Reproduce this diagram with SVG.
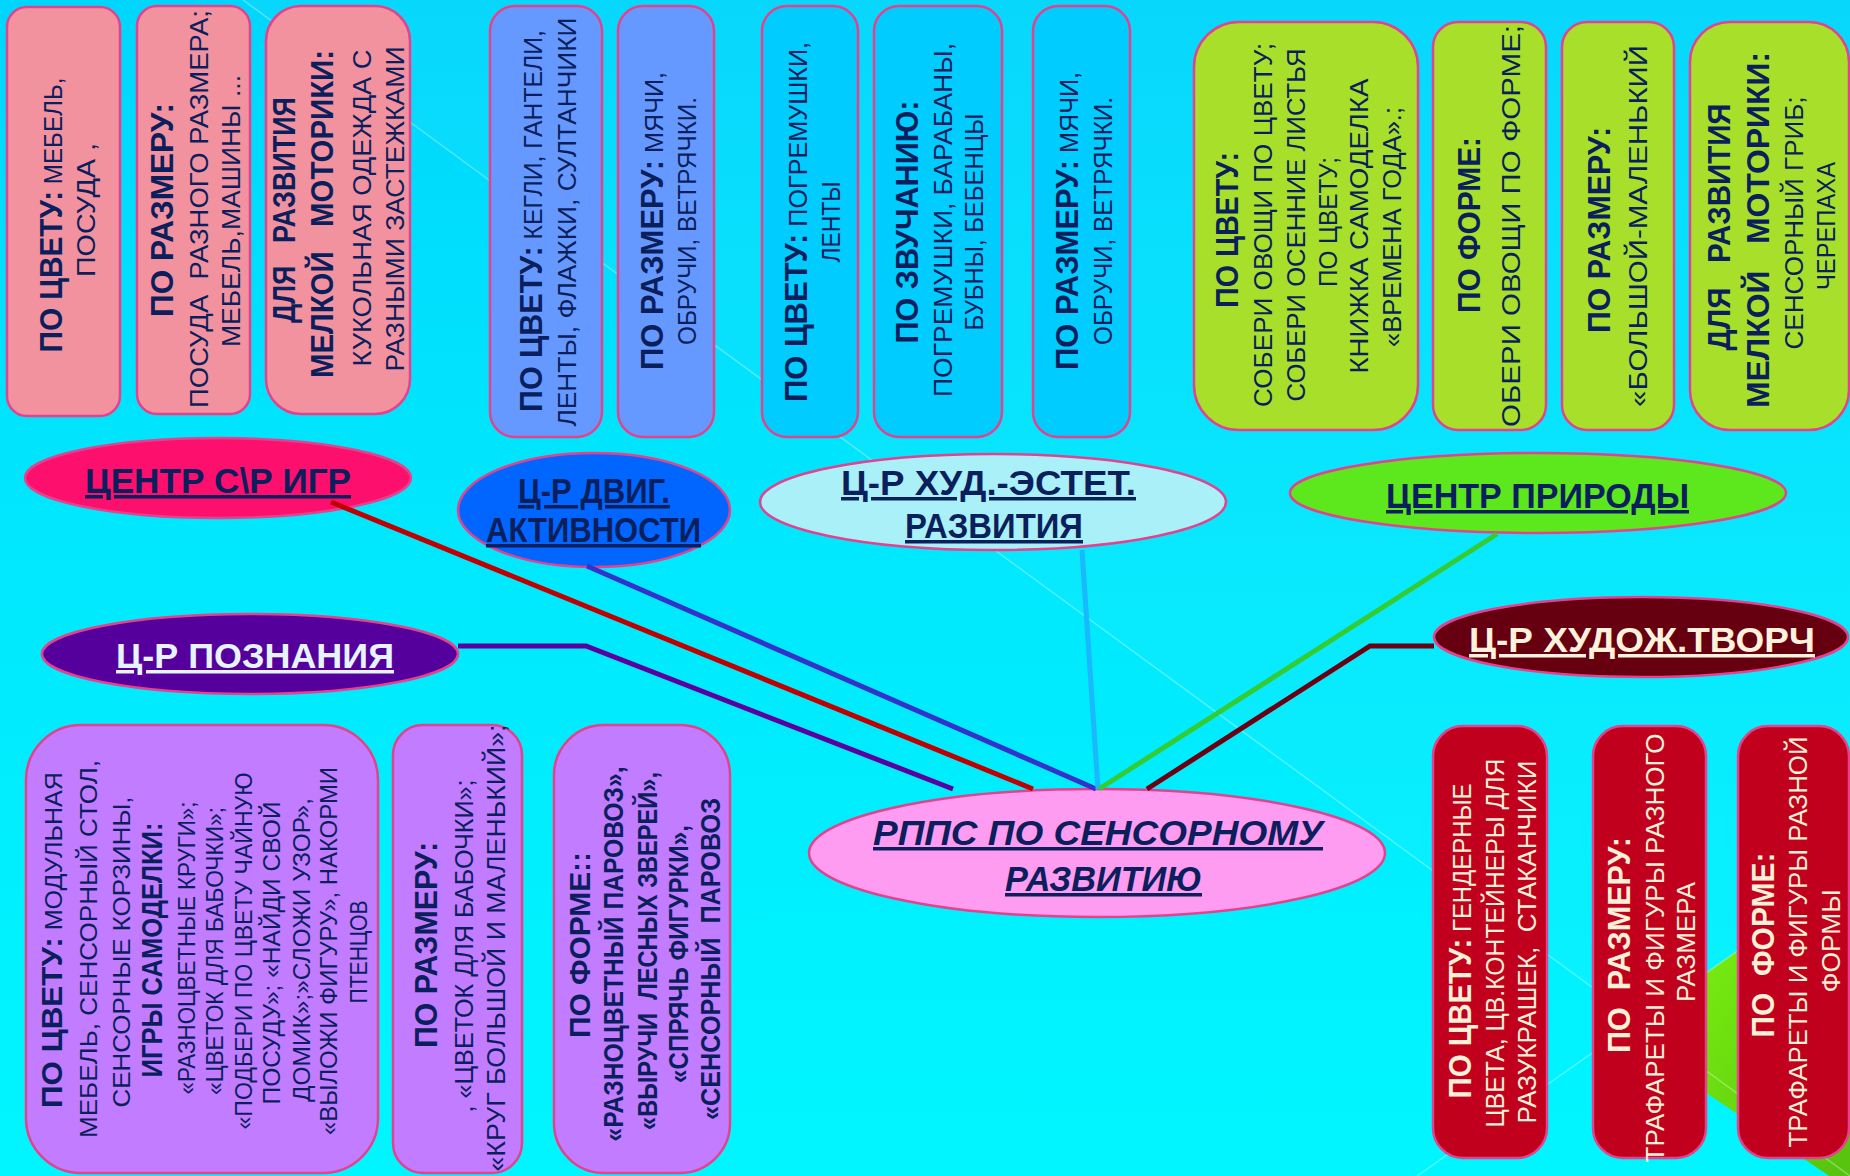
<svg xmlns="http://www.w3.org/2000/svg" width="1850" height="1176" viewBox="0 0 1850 1176">
<defs>
<linearGradient id="bg" x1="0" y1="0" x2="0" y2="1"><stop offset="0" stop-color="#00d6fc"/><stop offset="0.5" stop-color="#00e9fe"/><stop offset="1" stop-color="#00f6ff"/></linearGradient>
<linearGradient id="gr" x1="0" y1="0" x2="1" y2="1"><stop offset="0" stop-color="#86ff10"/><stop offset="1" stop-color="#56c010"/></linearGradient>
<style>
text{white-space:pre}
.box{stroke:#e4428e;stroke-width:2.5}
.el{stroke:#e4428e;stroke-width:2.5}
.pk{fill:#f2929f}.pw{fill:#6699ff}.cy{fill:#00ccff}.lm{fill:#a8df2a}.pu{fill:#c17cff}.rd{fill:#c0001c}
.t{font-family:"Liberation Sans",Arial,sans-serif;fill:#0b1f5c;font-size:26px}
.t2{font-family:"Liberation Sans",Arial,sans-serif;fill:#0b1f5c;font-size:24px}
.tw{font-family:"Liberation Sans",Arial,sans-serif;fill:#fff0d8;font-size:26px}
.b{font-weight:bold;font-size:32px}
.b2{font-weight:bold;font-size:30px}
.b3{font-weight:bold;font-size:27px}
.lab{font-family:"Liberation Sans",Arial,sans-serif;font-weight:bold;font-size:35px;fill:#0b1f5c;text-decoration:underline}
.con{fill:none;stroke-width:5;stroke-linejoin:miter}
.streak{stroke:#ffffff;stroke-opacity:0.3;stroke-width:1.5;fill:none}
</style>
</defs>
<rect x="0" y="0" width="1850" height="1176" fill="url(#bg)"/>
<polygon points="243,0 1850,1176 1850,0" fill="#ffffff" fill-opacity="0.03"/>
<polygon points="1619,1034 1850,872 1850,1190" fill="url(#gr)"/>
<line class="streak" x1="243" y1="0" x2="1850" y2="1176"/>
<line class="streak" x1="1850" y1="872" x2="1417" y2="1176"/>

<g id="box-sr-color"><rect class="box pk" x="7" y="7" width="113" height="409" rx="20"/>
<text class="t" text-anchor="middle" textLength="275" lengthAdjust="spacingAndGlyphs" transform="translate(62,215) rotate(-90)"><tspan class="b">ПО ЦВЕТУ:</tspan> МЕБЕЛЬ,</text>
<text class="t" text-anchor="middle" textLength="134" lengthAdjust="spacingAndGlyphs" transform="translate(95,210) rotate(-90)">ПОСУДА ,</text></g>

<g id="box-sr-size"><rect class="box pk" x="137" y="6" width="113" height="408" rx="20"/>
<text class="t b" text-anchor="middle" textLength="214" lengthAdjust="spacingAndGlyphs" transform="translate(173,210) rotate(-90)">ПО РАЗМЕРУ:</text>
<text class="t" text-anchor="middle" textLength="398" lengthAdjust="spacingAndGlyphs" transform="translate(208,209) rotate(-90)">ПОСУДА&#160; РАЗНОГО РАЗМЕРА;</text>
<text class="t" text-anchor="middle" textLength="272" lengthAdjust="spacingAndGlyphs" transform="translate(240,211) rotate(-90)">МЕБЕЛЬ,МАШИНЫ ...</text></g>

<g id="box-sr-motor"><rect class="box pk" x="266" y="6" width="144" height="408" rx="35"/>
<text class="t b" text-anchor="middle" textLength="226" lengthAdjust="spacingAndGlyphs" transform="translate(295,210) rotate(-90)">ДЛЯ&#160;&#160; РАЗВИТИЯ</text>
<text class="t b" text-anchor="middle" textLength="328" lengthAdjust="spacingAndGlyphs" transform="translate(333,214) rotate(-90)">МЕЛКОЙ&#160;&#160; МОТОРИКИ:</text>
<text class="t" text-anchor="middle" textLength="317" lengthAdjust="spacingAndGlyphs" transform="translate(371,208) rotate(-90)">КУКОЛЬНАЯ ОДЕЖДА С</text>
<text class="t" text-anchor="middle" textLength="325" lengthAdjust="spacingAndGlyphs" transform="translate(404,209) rotate(-90)">РАЗНЫМИ ЗАСТЕЖКАМИ</text></g>

<g id="box-dv-color"><rect class="box pw" x="490" y="6" width="112" height="431" rx="25"/>
<text class="t" text-anchor="middle" textLength="382" lengthAdjust="spacingAndGlyphs" transform="translate(542,221) rotate(-90)"><tspan class="b">ПО ЦВЕТУ:</tspan> КЕГЛИ, ГАНТЕЛИ,</text>
<text class="t" text-anchor="middle" textLength="409" lengthAdjust="spacingAndGlyphs" transform="translate(576,222) rotate(-90)">ЛЕНТЫ, ФЛАЖКИ, СУЛТАНЧИКИ</text></g>

<g id="box-dv-size"><rect class="box pw" x="618" y="6" width="96" height="431" rx="25"/>
<text class="t" text-anchor="middle" textLength="298" lengthAdjust="spacingAndGlyphs" transform="translate(663,221) rotate(-90)"><tspan class="b">ПО РАЗМЕРУ:</tspan> МЯЧИ,</text>
<text class="t" text-anchor="middle" textLength="248" lengthAdjust="spacingAndGlyphs" transform="translate(696,221) rotate(-90)">ОБРУЧИ, ВЕТРЯЧКИ.</text></g>

<g id="box-he-color"><rect class="box cy" x="762" y="6" width="96" height="431" rx="25"/>
<text class="t" text-anchor="middle" textLength="360" lengthAdjust="spacingAndGlyphs" transform="translate(807,222) rotate(-90)"><tspan class="b">ПО ЦВЕТУ:</tspan> ПОГРЕМУШКИ,</text>
<text class="t" text-anchor="middle" textLength="81" lengthAdjust="spacingAndGlyphs" transform="translate(840,222) rotate(-90)">ЛЕНТЫ</text></g>

<g id="box-he-sound"><rect class="box cy" x="874" y="6" width="128" height="431" rx="25"/>
<text class="t b" text-anchor="middle" textLength="243" lengthAdjust="spacingAndGlyphs" transform="translate(918,222) rotate(-90)">ПО ЗВУЧАНИЮ:</text>
<text class="t" text-anchor="middle" textLength="354" lengthAdjust="spacingAndGlyphs" transform="translate(952,220) rotate(-90)">ПОГРЕМУШКИ, БАРАБАНЫ,</text>
<text class="t" text-anchor="middle" textLength="217" lengthAdjust="spacingAndGlyphs" transform="translate(983,222) rotate(-90)">БУБНЫ, БЕБЕНЦЫ</text></g>

<g id="box-he-size"><rect class="box cy" x="1033" y="6" width="97" height="431" rx="25"/>
<text class="t" text-anchor="middle" textLength="298" lengthAdjust="spacingAndGlyphs" transform="translate(1078,221) rotate(-90)"><tspan class="b">ПО РАЗМЕРУ:</tspan> МЯЧИ,</text>
<text class="t" text-anchor="middle" textLength="248" lengthAdjust="spacingAndGlyphs" transform="translate(1112,221) rotate(-90)">ОБРУЧИ, ВЕТРЯЧКИ.</text></g>

<g id="box-pr-color"><rect class="box lm" x="1194" y="22" width="224" height="408" rx="45"/>
<text class="t b" text-anchor="middle" textLength="156" lengthAdjust="spacingAndGlyphs" transform="translate(1238,230) rotate(-90)">ПО ЦВЕТУ:</text>
<text class="t" text-anchor="middle" textLength="364" lengthAdjust="spacingAndGlyphs" transform="translate(1272,225) rotate(-90)">СОБЕРИ ОВОЩИ ПО ЦВЕТУ;</text>
<text class="t" text-anchor="middle" textLength="353" lengthAdjust="spacingAndGlyphs" transform="translate(1305,225) rotate(-90)">СОБЕРИ ОСЕННИЕ ЛИСТЬЯ</text>
<text class="t" text-anchor="middle" textLength="130" lengthAdjust="spacingAndGlyphs" transform="translate(1337,222) rotate(-90)">ПО ЦВЕТУ;</text>
<text class="t" text-anchor="middle" textLength="295" lengthAdjust="spacingAndGlyphs" transform="translate(1368,226) rotate(-90)">КНИЖКА САМОДЕЛКА</text>
<text class="t" text-anchor="middle" textLength="240" lengthAdjust="spacingAndGlyphs" transform="translate(1401,227) rotate(-90)">«ВРЕМЕНА ГОДА».;</text></g>

<g id="box-pr-form"><rect class="box lm" x="1433" y="22" width="113" height="408" rx="25"/>
<text class="t b" text-anchor="middle" textLength="176" lengthAdjust="spacingAndGlyphs" transform="translate(1480,225) rotate(-90)">ПО ФОРМЕ:</text>
<text class="t" text-anchor="middle" textLength="402" lengthAdjust="spacingAndGlyphs" transform="translate(1520,226) rotate(-90)">ОБЕРИ ОВОЩИ ПО ФОРМЕ;</text></g>

<g id="box-pr-size"><rect class="box lm" x="1562" y="22" width="112" height="408" rx="25"/>
<text class="t b" text-anchor="middle" textLength="206" lengthAdjust="spacingAndGlyphs" transform="translate(1610,230) rotate(-90)">ПО РАЗМЕРУ:</text>
<text class="t" text-anchor="middle" textLength="362" lengthAdjust="spacingAndGlyphs" transform="translate(1647,226) rotate(-90)">«БОЛЬШОЙ-МАЛЕНЬКИЙ</text></g>

<g id="box-pr-motor"><rect class="box lm" x="1690" y="22" width="159" height="408" rx="40"/>
<text class="t b" text-anchor="middle" textLength="247" lengthAdjust="spacingAndGlyphs" transform="translate(1730,227) rotate(-90)">ДЛЯ&#160;&#160; РАЗВИТИЯ</text>
<text class="t b" text-anchor="middle" textLength="356" lengthAdjust="spacingAndGlyphs" transform="translate(1769,230) rotate(-90)">МЕЛКОЙ&#160;&#160; МОТОРИКИ:</text>
<text class="t" text-anchor="middle" textLength="253" lengthAdjust="spacingAndGlyphs" transform="translate(1803,223) rotate(-90)">СЕНСОРНЫЙ ГРИБ;</text>
<text class="t" text-anchor="middle" textLength="128" lengthAdjust="spacingAndGlyphs" transform="translate(1835,226) rotate(-90)">ЧЕРЕПАХА</text></g>

<g id="box-pz-color"><rect class="box pu" x="26" y="725" width="352" height="448" rx="55"/>
<text class="t2" text-anchor="middle" textLength="336" lengthAdjust="spacingAndGlyphs" transform="translate(62,940) rotate(-90)"><tspan class="b2">ПО ЦВЕТУ:</tspan> МОДУЛЬНАЯ</text>
<text class="t2" text-anchor="middle" textLength="378" lengthAdjust="spacingAndGlyphs" transform="translate(97,949) rotate(-90)">МЕБЕЛЬ, СЕНСОРНЫЙ СТОЛ,</text>
<text class="t2" text-anchor="middle" textLength="311" lengthAdjust="spacingAndGlyphs" transform="translate(130,952) rotate(-90)">СЕНСОРНЫЕ КОРЗИНЫ,</text>
<text class="t2 b2" text-anchor="middle" textLength="255" lengthAdjust="spacingAndGlyphs" transform="translate(162,950) rotate(-90)">ИГРЫ САМОДЕЛКИ:</text>
<text class="t2" text-anchor="middle" textLength="293" lengthAdjust="spacingAndGlyphs" transform="translate(195,948) rotate(-90)">«РАЗНОЦВЕТНЫЕ КРУГИ»;</text>
<text class="t2" text-anchor="middle" textLength="288" lengthAdjust="spacingAndGlyphs" transform="translate(223,951) rotate(-90)">«ЦВЕТОК ДЛЯ БАБОЧКИ»;</text>
<text class="t2" text-anchor="middle" textLength="357" lengthAdjust="spacingAndGlyphs" transform="translate(252,951) rotate(-90)">«ПОДБЕРИ ПО ЦВЕТУ ЧАЙНУЮ</text>
<text class="t2" text-anchor="middle" textLength="303" lengthAdjust="spacingAndGlyphs" transform="translate(280,953) rotate(-90)">ПОСУДУ»; «НАЙДИ СВОЙ</text>
<text class="t2" text-anchor="middle" textLength="304" lengthAdjust="spacingAndGlyphs" transform="translate(310,950) rotate(-90)">ДОМИК»;»СЛОЖИ УЗОР»,</text>
<text class="t2" text-anchor="middle" textLength="368" lengthAdjust="spacingAndGlyphs" transform="translate(337,951) rotate(-90)">«ВЫЛОЖИ ФИГУРУ», НАКОРМИ</text>
<text class="t2" text-anchor="middle" textLength="103" lengthAdjust="spacingAndGlyphs" transform="translate(367,952) rotate(-90)">ПТЕНЦОВ</text></g>

<g id="box-pz-size"><rect class="box pu" x="393" y="725" width="129" height="448" rx="30"/>
<text class="t b" text-anchor="middle" textLength="206" lengthAdjust="spacingAndGlyphs" transform="translate(437,945) rotate(-90)">ПО РАЗМЕРУ:</text>
<text class="t" text-anchor="middle" textLength="333" lengthAdjust="spacingAndGlyphs" transform="translate(473,946) rotate(-90)">, «ЦВЕТОК ДЛЯ БАБОЧКИ»;</text>
<text class="t" text-anchor="middle" textLength="447" lengthAdjust="spacingAndGlyphs" transform="translate(505,948) rotate(-90)">«КРУГ БОЛЬШОЙ И МАЛЕНЬКИЙ»;</text></g>

<g id="box-pz-form"><rect class="box pu" x="554" y="725" width="176" height="448" rx="50"/>
<text class="t b2" text-anchor="middle" textLength="186" lengthAdjust="spacingAndGlyphs" transform="translate(590,945) rotate(-90)">ПО ФОРМЕ::</text>
<text class="t b3" text-anchor="middle" textLength="375" lengthAdjust="spacingAndGlyphs" transform="translate(623,954) rotate(-90)">«РАЗНОЦВЕТНЫЙ ПАРОВОЗ»,</text>
<text class="t b3" text-anchor="middle" textLength="358" lengthAdjust="spacingAndGlyphs" transform="translate(657,951) rotate(-90)">«ВЫРУЧИ&#160; ЛЕСНЫХ ЗВЕРЕЙ»,</text>
<text class="t b3" text-anchor="middle" textLength="258" lengthAdjust="spacingAndGlyphs" transform="translate(688,954) rotate(-90)">«СПРЯЧЬ ФИГУРКИ»,</text>
<text class="t b3" text-anchor="middle" textLength="322" lengthAdjust="spacingAndGlyphs" transform="translate(720,959) rotate(-90)">«СЕНСОРНЫЙ&#160; ПАРОВОЗ</text></g>

<g id="box-ht-color"><rect class="box rd" x="1433" y="726" width="114" height="432" rx="30"/>
<text class="tw" text-anchor="middle" textLength="315" lengthAdjust="spacingAndGlyphs" transform="translate(1471,941) rotate(-90)"><tspan class="b">ПО ЦВЕТУ:</tspan> ГЕНДЕРНЫЕ</text>
<text class="tw" text-anchor="middle" textLength="369" lengthAdjust="spacingAndGlyphs" transform="translate(1504,943) rotate(-90)">ЦВЕТА, ЦВ.КОНТЕЙНЕРЫ ДЛЯ</text>
<text class="tw" text-anchor="middle" textLength="363" lengthAdjust="spacingAndGlyphs" transform="translate(1536,942) rotate(-90)">РАЗУКРАШЕК,&#160; СТАКАНЧИКИ</text></g>

<g id="box-ht-size"><rect class="box rd" x="1593" y="726" width="113" height="432" rx="30"/>
<text class="tw b" text-anchor="middle" textLength="216" lengthAdjust="spacingAndGlyphs" transform="translate(1630,945) rotate(-90)">ПО&#160; РАЗМЕРУ:</text>
<text class="tw" text-anchor="middle" textLength="429" lengthAdjust="spacingAndGlyphs" transform="translate(1664,948) rotate(-90)">ТРАФАРЕТЫ И ФИГУРЫ РАЗНОГО</text>
<text class="tw" text-anchor="middle" textLength="120" lengthAdjust="spacingAndGlyphs" transform="translate(1695,942) rotate(-90)">РАЗМЕРА</text></g>

<g id="box-ht-form"><rect class="box rd" x="1738" y="726" width="111" height="432" rx="30"/>
<text class="tw b" text-anchor="middle" textLength="185" lengthAdjust="spacingAndGlyphs" transform="translate(1774,945) rotate(-90)">ПО&#160; ФОРМЕ:</text>
<text class="tw" text-anchor="middle" textLength="411" lengthAdjust="spacingAndGlyphs" transform="translate(1807,942) rotate(-90)">ТРАФАРЕТЫ И ФИГУРЫ РАЗНОЙ</text>
<text class="tw" text-anchor="middle" textLength="103" lengthAdjust="spacingAndGlyphs" transform="translate(1840,941) rotate(-90)">ФОРМЫ</text></g>

<g id="node-sr"><ellipse class="el" cx="218" cy="478" rx="193" ry="40" fill="#fd0f6e"/>
<text class="lab" x="85" y="493" font-size="37" textLength="266" lengthAdjust="spacingAndGlyphs">ЦЕНТР С\Р ИГР</text></g>

<g id="node-dv"><ellipse class="el" cx="594" cy="510" rx="136" ry="57" fill="#0066ff"/>
<text class="lab" x="518" y="503" font-size="33" textLength="152" lengthAdjust="spacingAndGlyphs">Ц-Р ДВИГ.</text>
<text class="lab" x="486" y="542" font-size="33" textLength="215" lengthAdjust="spacingAndGlyphs">АКТИВНОСТИ</text></g>

<g id="node-pz"><ellipse class="el" cx="250" cy="654" rx="208" ry="40" fill="#55009c"/>
<text class="lab" x="116" y="668" style="fill:#e6f4ff" textLength="278" lengthAdjust="spacingAndGlyphs">Ц-Р ПОЗНАНИЯ</text></g>

<g id="node-he"><ellipse class="el" cx="993" cy="502" rx="233" ry="48" fill="#aaf0f8"/>
<text class="lab" x="841" y="495" font-size="37" textLength="295" lengthAdjust="spacingAndGlyphs">Ц-Р ХУД.-ЭСТЕТ.</text>
<text class="lab" x="905" y="538" textLength="178" lengthAdjust="spacingAndGlyphs">РАЗВИТИЯ</text></g>

<g id="node-pr"><ellipse class="el" cx="1538" cy="493" rx="248" ry="40" fill="#5ce81c"/>
<text class="lab" x="1386" y="508" textLength="303" lengthAdjust="spacingAndGlyphs">ЦЕНТР ПРИРОДЫ</text></g>

<g id="node-ht"><ellipse class="el" cx="1641" cy="637" rx="207" ry="40" fill="#660010"/>
<text class="lab" x="1469" y="652" style="fill:#fff2dc" textLength="346" lengthAdjust="spacingAndGlyphs">Ц-Р ХУДОЖ.ТВОРЧ</text></g>

<g id="node-center"><ellipse class="el" cx="1097" cy="853" rx="288" ry="64" fill="#fd9cf0"/>
<text class="lab" x="873" y="845" font-style="italic" textLength="450" lengthAdjust="spacingAndGlyphs">РППС ПО СЕНСОРНОМУ</text>
<text class="lab" x="1005" y="891" font-style="italic" textLength="197" lengthAdjust="spacingAndGlyphs">РАЗВИТИЮ</text></g>

<g id="connectors">
<polyline class="con" stroke="#5a00a0" points="458,646 586,646 953,789"/>
<line class="con" stroke="#c00000" x1="331" y1="502" x2="1033" y2="789"/>
<line class="con" stroke="#3333cc" x1="587" y1="566" x2="1096" y2="789"/>
<line class="con" stroke="#1ab8ff" stroke-width="4" x1="1082" y1="550" x2="1098" y2="789"/>
<line class="con" stroke="#33cc33" x1="1497" y1="534" x2="1099" y2="789"/>
<polyline class="con" stroke="#6b0012" points="1434,646 1370,646 1147,789"/>
</g>
</svg>
